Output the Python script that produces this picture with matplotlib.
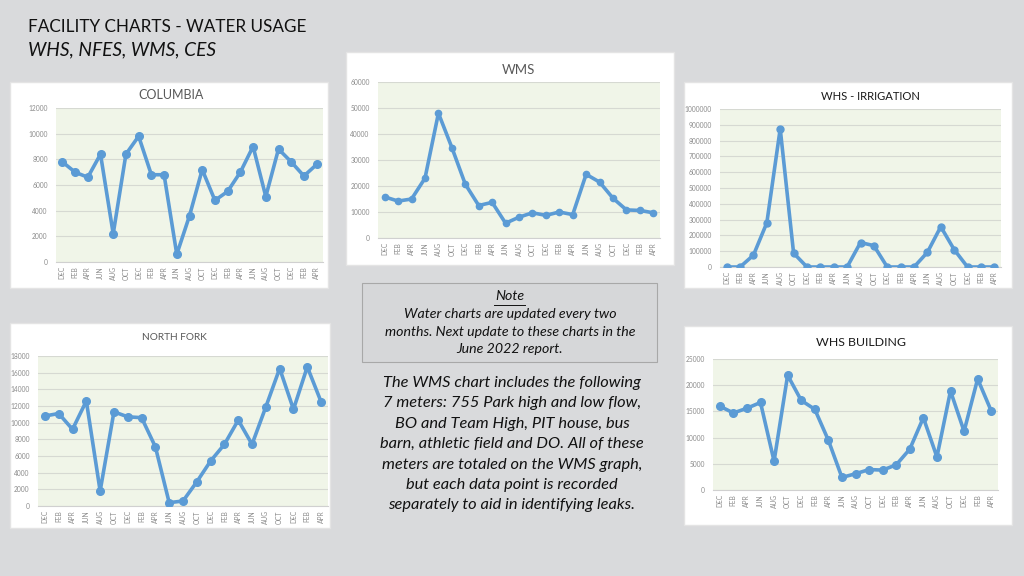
import numpy as np
import matplotlib
matplotlib.use('Agg')
import matplotlib.pyplot as plt
from matplotlib.patches import Rectangle
from matplotlib.ticker import StrMethodFormatter

plt.rcParams['font.family'] = ['Lato', 'DejaVu Sans']

# Data
months = ['DEC', 'FEB', 'APR', 'JUN', 'AUG', 'OCT', 'DEC', 'FEB', 'APR', 'JUN', 'AUG',
          'OCT', 'DEC', 'FEB', 'APR', 'JUN', 'AUG', 'OCT', 'DEC', 'FEB', 'APR']

columbia = [7800, 7000, 6600, 8400, 2200, 8400, 9800, 6800, 6800, 600, 3600,
            7200, 4800, 5500, 7000, 9000, 5100, 8800, 7800, 6700, 7600]
wms = [15800, 14200, 15000, 23000, 48000, 34800, 20700, 12500, 13700, 5700, 8000,
       9700, 8700, 10000, 9000, 24500, 21500, 15300, 10800, 10600, 9700]
whs_irrigation = [0, 0, 75000, 280000, 875000, 88000, 0, 0, 0, 0, 155000,
                  135000, 0, 0, 0, 93000, 255000, 110000, 0, 0, 0]
north_fork = [10800, 11100, 9200, 12600, 1800, 11300, 10700, 10600, 7100, 400, 600,
              2900, 5400, 7400, 10300, 7400, 11900, 16500, 11600, 16700, 12500]
whs_building = [16000, 14700, 15600, 16700, 5500, 21900, 17100, 15400, 9500, 2400, 3100,
                3900, 3800, 4800, 7800, 13800, 6300, 18900, 11200, 21200, 15100]

W, H = 1024, 576
bg = '#d9dadc'
line_c = '#5b9bd5'
plot_bg = '#f0f5e8'

fig = plt.figure(figsize=(W / 100, H / 100), dpi=100)
fig.patch.set_facecolor(bg)


def box(x0, y0, x1, y1):
    # pixel box (top-left origin) -> figure fraction [l, b, w, h]
    return [x0 / W, 1 - y1 / H, (x1 - x0) / W, (y1 - y0) / H]


def panel(x0, y0, x1, y1, fc='white', ec='#e4e4e4', lw=1.0):
    l, b, w, h = box(x0, y0, x1, y1)
    fig.patches.append(Rectangle((l, b), w, h, transform=fig.transFigure,
                                 facecolor=fc, edgecolor=ec, lw=lw, zorder=-1))


def chart(pan, area, values, ymax, ystep, title, tcolor, tsize, tx, ty, ms=5.5):
    panel(*pan)
    ax = fig.add_axes(box(*area))
    ax.set_facecolor(plot_bg)
    x = np.arange(len(values))
    ax.plot(x, values, color=line_c, lw=2.6, marker='o', ms=ms, zorder=3,
            solid_joinstyle='round')
    ax.set_xlim(-0.5, len(values) - 0.5)
    ax.set_ylim(0, ymax)
    ax.set_yticks(np.arange(0, ymax + 1, ystep))
    ax.yaxis.set_major_formatter(StrMethodFormatter('{x:.0f}'))
    ax.set_xticks(x)
    ax.set_xticklabels(months, rotation=90, fontsize=4.8, color='#8c8c8c')
    ax.tick_params(axis='y', labelsize=4.8, colors='#8c8c8c', length=0, pad=6)
    ax.tick_params(axis='x', length=0, pad=3)
    ax.grid(axis='y', color='#d6d9d2', lw=0.8)
    ax.set_axisbelow(True)
    for s in ['top', 'right', 'left']:
        ax.spines[s].set_visible(False)
    ax.spines['bottom'].set_color('#d0d0d0')
    fig.text(tx / W, 1 - ty / H, title, ha='center', va='center',
             fontsize=tsize, color=tcolor)
    return ax


chart((10, 82, 328, 288), (56, 108, 323, 262), columbia, 12000, 2000,
      'COLUMBIA', '#595959', 9, 171, 95)
chart((346, 52, 674, 265), (378, 82, 660, 238), wms, 60000, 10000,
      'WMS', '#595959', 9.5, 518, 70, ms=4.5)
chart((684, 82, 1012, 288), (720, 109, 1001, 267), whs_irrigation, 1000000, 100000,
      'WHS - IRRIGATION', '#1a1a1a', 8.1, 870, 97, ms=5)
chart((10, 323, 330, 528), (38, 356, 328, 506), north_fork, 18000, 2000,
      'NORTH FORK', '#595959', 7.3, 174, 338)
chart((684, 326, 1012, 525), (713, 359, 998, 490), whs_building, 25000, 5000,
      'WHS BUILDING', '#1a1a1a', 8.9, 861, 343)

# Header
fig.text(28 / W, 1 - 27 / H, 'FACILITY CHARTS - WATER USAGE', ha='left', va='center',
         fontsize=12.3, color='#111111')
fig.text(28 / W, 1 - 50 / H, 'WHS, NFES, WMS, CES', ha='left', va='center',
         fontsize=13.8, color='#111111', style='italic')

# Note box
panel(362, 283, 657, 362, fc='#d6d7d9', ec='#a8a8a8', lw=0.8)
fig.text(510 / W, 1 - 296 / H, 'Note', ha='center', va='center', fontsize=10.2,
         style='italic', color='#111111')
l, b, w, h = box(494, 304, 525, 305)
fig.lines.append(plt.Line2D([l, l + w], [b, b], transform=fig.transFigure,
                            color='#111111', lw=0.7))
note_lines = ['Water charts are updated every two',
              'months. Next update to these charts in the',
              'June 2022 report.']
for i, t in enumerate(note_lines):
    fig.text(510 / W, 1 - (314 + 17.5 * i) / H, t, ha='center', va='center',
             fontsize=10.2, style='italic', color='#111111')

body_lines = ['The WMS chart includes the following',
              '7 meters: 755 Park high and low flow,',
              'BO and Team High, PIT house, bus',
              'barn, athletic field and DO. All of these',
              'meters are totaled on the WMS graph,',
              'but each data point is recorded',
              'separately to aid in identifying leaks.']
for i, t in enumerate(body_lines):
    fig.text(512 / W, 1 - (383 + 20.4 * i) / H, t, ha='center', va='center',
             fontsize=11.8, style='italic', color='#111111')

fig.savefig('out.png', dpi=100, facecolor=bg)
